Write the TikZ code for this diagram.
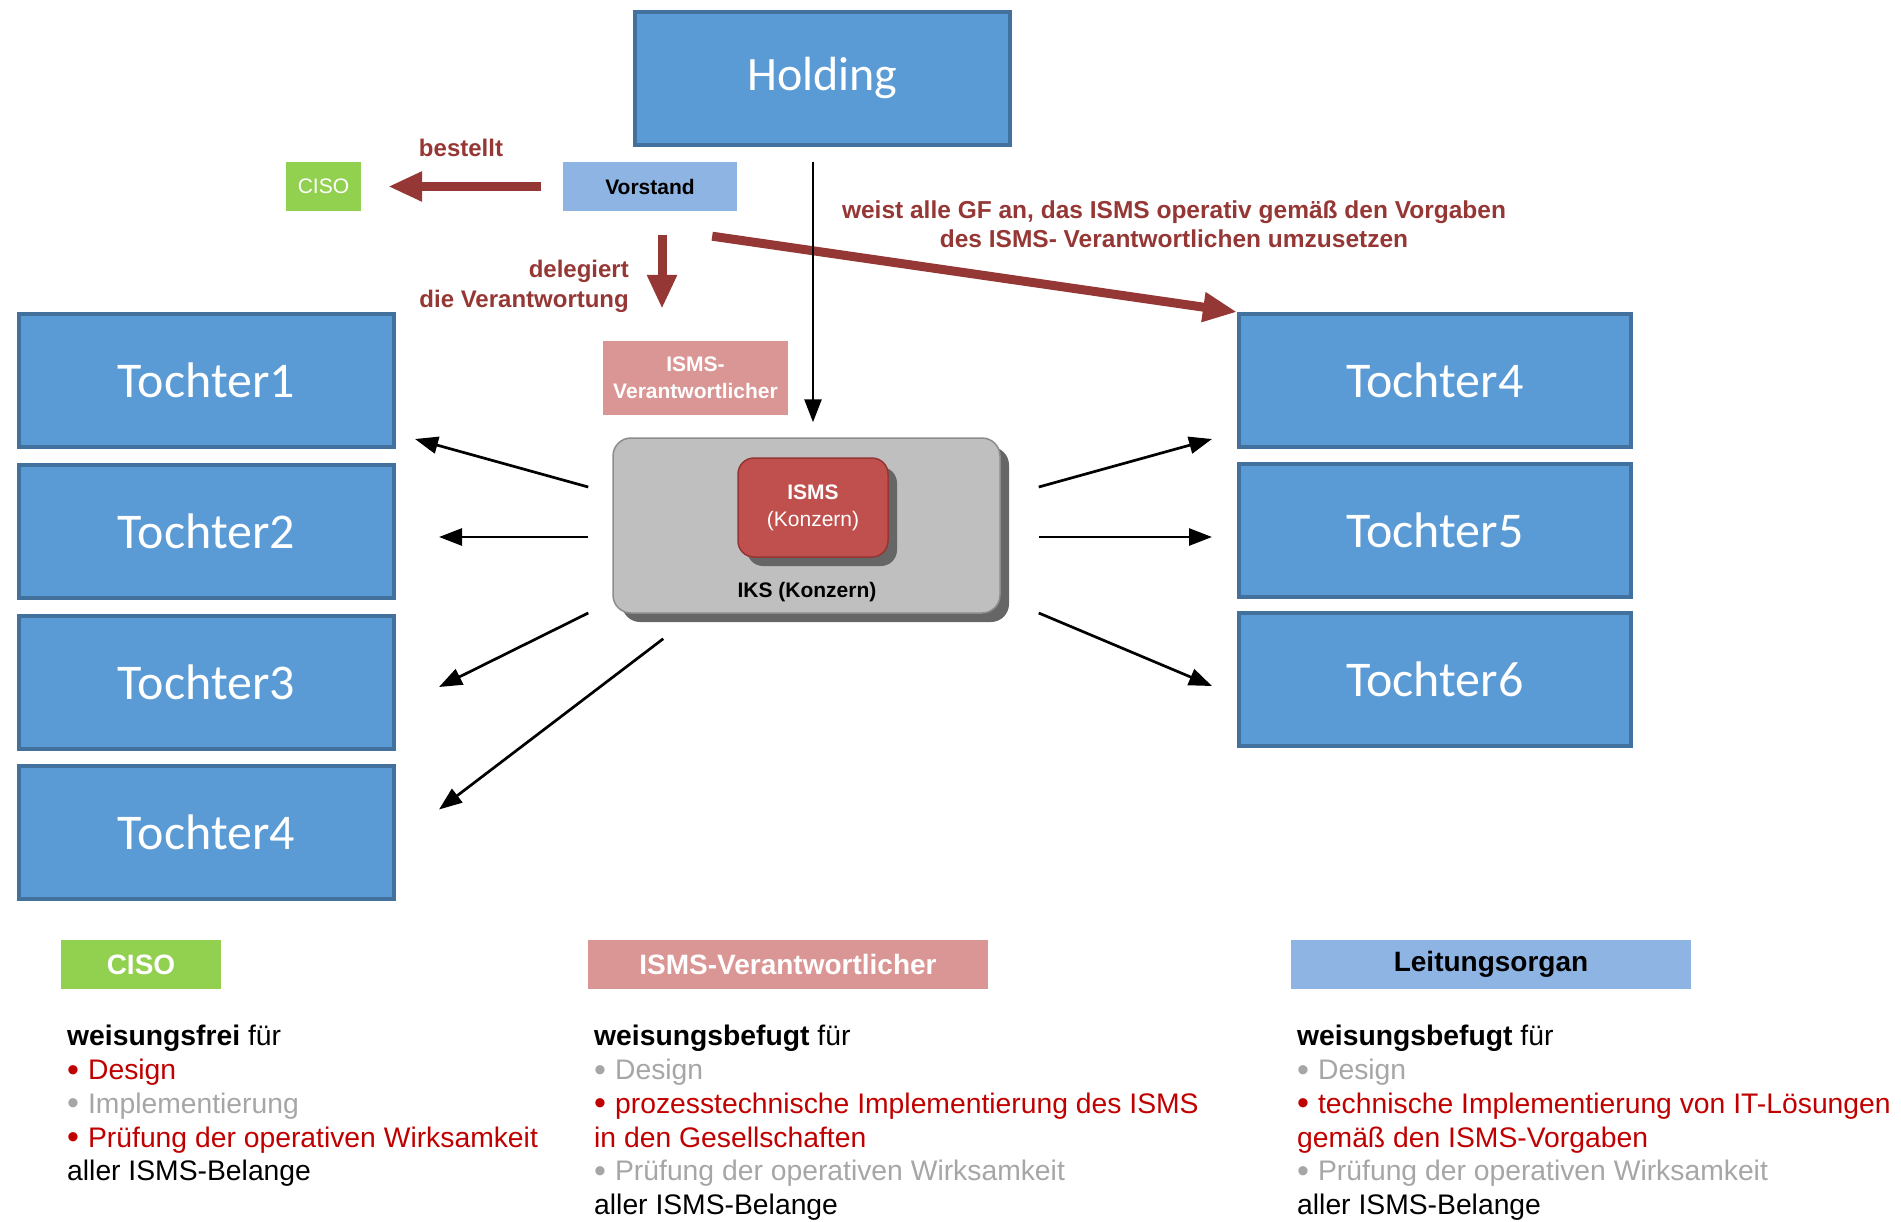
\documentclass[tikz,border=0pt]{standalone}
\usepackage{fontspec}
\setmainfont{Liberation Sans}
\newfontfamily\calibrifont{Carlito}
\usepackage{tikz}
\usetikzlibrary{arrows.meta,positioning,shadows}
\definecolor{tblue}{HTML}{5B9BD5}
\definecolor{tborder}{HTML}{41719C}
\definecolor{vblue}{HTML}{8EB4E3}
\definecolor{cgreen}{HTML}{92D050}
\definecolor{vpink}{HTML}{DA9694}
\definecolor{dred}{HTML}{953735}
\definecolor{ikgray}{HTML}{BFBFBF}
\definecolor{ikbord}{HTML}{8C8C8C}
\definecolor{shgray}{HTML}{666666}
\definecolor{ismsred}{HTML}{C0504D}
\definecolor{ismsbord}{HTML}{943634}
\definecolor{tred}{HTML}{C00000}
\definecolor{tgray}{HTML}{A6A6A6}
\newcommand{\fsz}[2]{\fontsize{#1}{#2}\selectfont}
\newcommand{\bul}{\raisebox{-1.5pt}{\fsz{34}{34}\textbullet}\hspace{9pt}}

\begin{document}
\begin{tikzpicture}[
  x=1pt,y=-1pt,
  tbox/.style={draw=tborder,line width=4pt,fill=tblue,text=white,inner sep=0pt,
               font=\calibrifont\fsz{50}{60},minimum width=375pt,minimum height=133pt},
  lbl/.style={inner sep=0pt,minimum height=49pt,font=\fsz{21}{26}},
  head/.style={inner sep=0pt,minimum height=49pt,minimum width=400pt,font=\bfseries\fsz{28}{34}},
  redtxt/.style={text=dred,font=\bfseries\fsz{24}{30},inner sep=0pt},
  blk/.style={-{Triangle[length=23pt,width=17pt]},line width=2.7pt},
  redarr/.style={-{Triangle[length=34pt,width=28pt]},line width=9pt,dred},
  body/.style={anchor=north west,align=left,inner sep=0pt,font=\fsz{28.3}{33.8}},
  shade/.style={drop shadow={shadow xshift=9pt,shadow yshift=-9pt,fill=shgray,opacity=1}},
  ]
  \useasboundingbox (0,0) rectangle (1901,1221);

  % top: holding, board, ciso
  \node[tbox,font=\calibrifont\fsz{48}{58}] (holding) at (822.5,78) {Holding};
  \node[lbl,fill=vblue,minimum width=174pt,font=\bfseries\fsz{21}{26}] (vorstand) at (650,186.5) {Vorstand};
  \node[lbl,fill=cgreen,minimum width=75pt,text=white] (ciso) at (323.5,186.5) {CISO};
  \node[fill=vpink,text=white,minimum width=185pt,minimum height=74pt,inner sep=0pt,
        align=center,font=\bfseries\fsz{21}{27}] (isv) at (695.5,378) {ISMS-\\Verantwortlicher};

  % group ISMS inside IKS
  \node[shade,draw=ikbord,line width=1.5pt,fill=ikgray,rounded corners=18pt,
        minimum width=387pt,minimum height=175pt] (iks) at (806.5,525.5) {};
  \node[shade,draw=ismsbord,line width=1.5pt,fill=ismsred,rounded corners=16pt,
        minimum width=150pt,minimum height=99pt,text=white,align=center,
        font=\fsz{21}{27}] (isms) at (813,507.5) {\textbf{ISMS}\\(Konzern)};
  \node[font=\bfseries\fsz{21}{26},inner sep=0pt] (iksl) at (807,592) {IKS (Konzern)};

  % subsidiaries
  \node[tbox] (tl1) at (206.5,380.5) {Tochter1};
  \node[tbox,below=14pt of tl1] (tl2) {Tochter2};
  \node[tbox,below=14pt of tl2] (tl3) {Tochter3};
  \node[tbox,below=13pt of tl3] (tl4) {Tochter4};
  \node[tbox,minimum width=392pt] (tr4) at (1435,380.5) {Tochter4};
  \node[tbox,minimum width=392pt,below=13pt of tr4] (tr5) {Tochter5};
  \node[tbox,minimum width=392pt,below=12pt of tr5] (tr6) {Tochter6};

  % red instructions
  \draw[redarr] ([shift={(-22,0)}]vorstand.west) -- ([shift={(27,0)}]ciso.east);
  \draw[redarr] ([shift={(12,24)}]vorstand.south) -- ([shift={(-33.5,-32)}]isv.north);
  \draw[redarr] ([shift={(-25,25)}]vorstand.south east) -- (tr4.north west);
  \node[redtxt] (bestellt) at (461,148) {bestellt};
  \node[redtxt,align=right,anchor=east] (deleg) at (629,286) {delegiert\\die Verantwortung};
  \node[redtxt,align=center,font=\bfseries\fsz{24.5}{29}] (weist) at (1174,224.5)
    {weist alle GF an, das ISMS operativ gemäß den Vorgaben\\des ISMS- Verantwortlichen umzusetzen};

  % black connectors
  \draw[blk] ([shift={(-9.5,15)}]holding.south) -- ([shift={(6.5,-15)}]iks.north);
  \draw[blk] ([shift={(-24,-38.5)}]iks.west) -- ([shift={(19,58.5)}]tl1.east);
  \draw[blk] ([shift={(-24,11.5)}]iks.west) -- ([shift={(43,5.5)}]tl2.east);
  \draw[blk] ([shift={(-24,87.5)}]iks.west) -- ([shift={(43,4.5)}]tl3.east);
  \draw[blk] ([shift={(51,25)}]iks.south west) -- ([shift={(43,-23)}]tl4.east);
  \draw[blk] ([shift={(38,-38.5)}]iks.east) -- ([shift={(-25,58.5)}]tr4.west);
  \draw[blk] ([shift={(38,11.5)}]iks.east) -- ([shift={(-25,6.5)}]tr5.west);
  \draw[blk] ([shift={(38,87.5)}]iks.east) -- ([shift={(-25,6.5)}]tr6.west);

  % legend
  \node[head,fill=cgreen,text=white,minimum width=160pt] (hciso) at (141,964.5) {CISO};
  \node[head,fill=vpink,text=white] (hisv) at (788,964.5) {ISMS-Verantwortlicher};
  \node[head,fill=vblue] (hleit) at (1491,964.5) {Leitungsorgan};

  \node[body] (tciso) at (67,1025) {\textbf{weisungsfrei} für\\
    \textcolor{tred}{\bul Design}\\
    \textcolor{tgray}{\bul Implementierung}\\
    \textcolor{tred}{\bul Prüfung der operativen Wirksamkeit}\\
    aller ISMS-Belange};
  \node[body] (tisv) at (594,1025) {\textbf{weisungsbefugt} für\\
    \textcolor{tgray}{\bul Design}\\
    \textcolor{tred}{\bul prozesstechnische Implementierung des ISMS}\\
    \textcolor{tred}{in den Gesellschaften}\\
    \textcolor{tgray}{\bul Prüfung der operativen Wirksamkeit}\\
    aller ISMS-Belange};
  \node[body] (tleit) at (1297,1025) {\textbf{weisungsbefugt} für\\
    \textcolor{tgray}{\bul Design}\\
    \textcolor{tred}{\bul technische Implementierung von IT-Lösungen}\\
    \textcolor{tred}{gemäß den ISMS-Vorgaben}\\
    \textcolor{tgray}{\bul Prüfung der operativen Wirksamkeit}\\
    aller ISMS-Belange};
\end{tikzpicture}
\end{document}
